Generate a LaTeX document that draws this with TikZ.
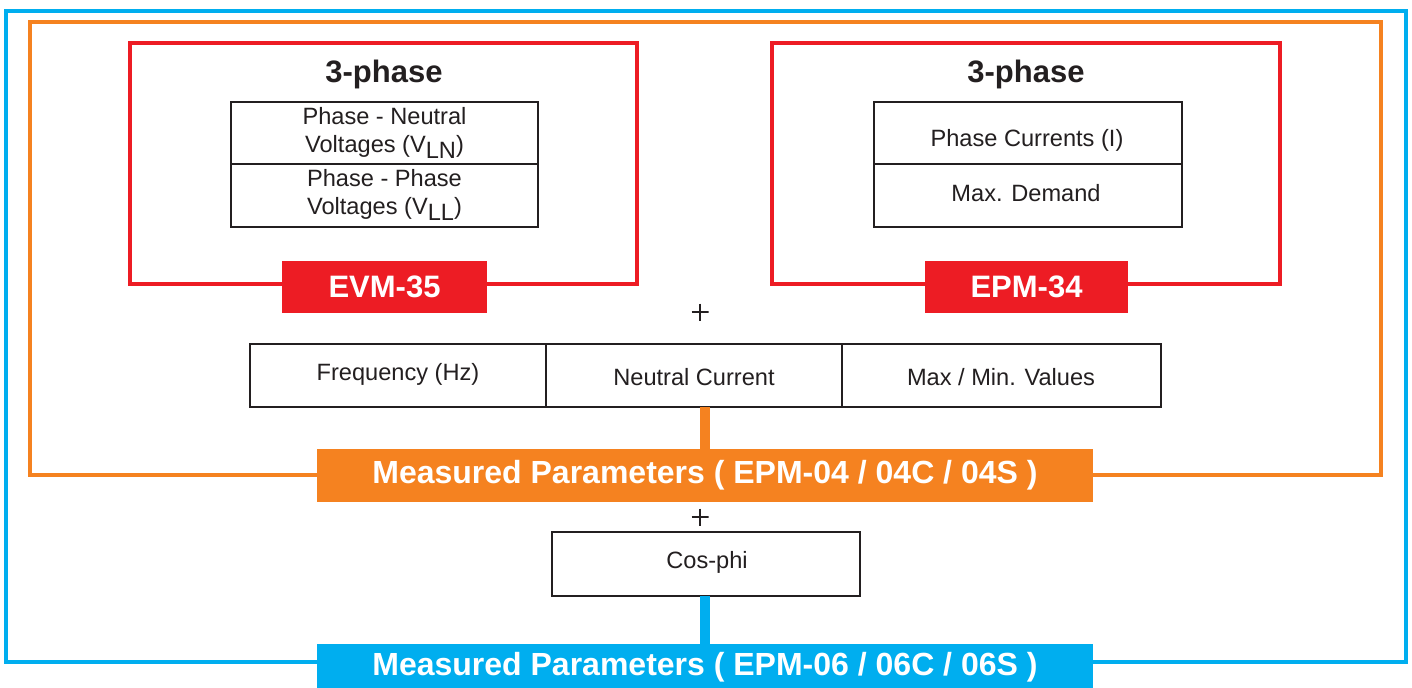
\documentclass[tikz,border=0pt]{standalone}
\usepackage{fontspec}
\setmainfont{Liberation Sans}
\definecolor{cred}{HTML}{ED1C24}
\definecolor{corange}{HTML}{F58220}
\definecolor{cblue}{HTML}{00AEEF}
\definecolor{cblack}{HTML}{231F20}
\begin{document}
\begin{tikzpicture}[x=0.5pt,y=-0.5pt,
  every node/.style={inner sep=0pt,outer sep=0pt,text=cblack},
  cell/.style={draw=cblack,line width=1pt,fill=white,minimum width=#1},
  txt/.style={align=center,font=\fontsize{11.8}{13.5}\selectfont},
  label/.style={fill=#1,text=white,font=\fontsize{15.5}{18}\selectfont\bfseries},
  biglabel/.style={fill=#1,text=white,font=\fontsize{16}{18}\selectfont\bfseries},
  title/.style={font=\fontsize{15.5}{18}\selectfont\bfseries},
  plus/.style={minimum size=8.5pt,path picture={
      \draw[cblack,line width=0.6pt] (path picture bounding box.north) -- (path picture bounding box.south)
        (path picture bounding box.west) -- (path picture bounding box.east);}},
  frame/.style={draw=#1,line width=1.6pt},
  conn/.style={draw=#1,line width=5pt}]
\useasboundingbox (0,0) rectangle (1412,687);
% outer frames
\draw[frame=cblue] (6,11) rectangle (1406,662);
\draw[frame=corange] (30,22) rectangle (1381,475);
\draw[frame=cred] (130,43) rectangle (637,284);
\draw[frame=cred] (772,43) rectangle (1280,284);
% titles
\node[title] (t1) at (384,74) {3-phase};
\node[title] (t2) at (1026,74) {3-phase};
% left table
\node[cell=153.5pt,minimum height=31pt] (vln) at (384.5,133) {};
\node[cell=153.5pt,minimum height=31.5pt] (vll) at (384.5,195.5) {};
\node[txt] (vlnt) at (384.5,132.5) {Phase - Neutral\\[0.5pt]Voltages (V\raisebox{-3pt}{LN})};
\node[txt] (vllt) at (384.5,194.5) {Phase - Phase\\[0.5pt]Voltages (V\raisebox{-3pt}{LL})};
% right table
\node[cell=154pt,minimum height=31pt] (pc) at (1028,133) {};
\node[cell=154pt,minimum height=31.5pt] (md) at (1028,195.5) {};
\node[txt] (pct) at (1027,140) {Phase Currents (I)};
\node[txt] (mdt) at (1026,193) {Max. Demand};
% labels
\node[label=cred,minimum width=102.5pt,minimum height=26pt] (evm) at (384.5,287) {EVM-35};
\node[label=cred,minimum width=101.5pt,minimum height=26pt] (epm34) at (1026.5,287) {EPM-34};
% plus 1
\node[plus] (p1) at (700,312) {};
% middle row
\node[cell=148pt,minimum height=31.5pt] (freq) at (398,375.5) {};
\node[cell=148pt,minimum height=31.5pt] (neut) at (694,375.5) {};
\node[cell=159.5pt,minimum height=31.5pt] (maxmin) at (1001.5,375.5) {};
\node[txt] (freqt) at (398,374) {Frequency (Hz)};
\node[txt] (neutt) at (694,377) {Neutral Current};
\node[txt] (maxmint) at (1001,377) {Max / Min. Values};
% orange label
\node[biglabel=corange,minimum width=388pt,minimum height=26.5pt] (or) at (705,475.5) {Measured Parameters ( EPM-04 / 04C / 04S )};
\draw[conn=corange] (or.north) -- (or.north |- neut.south);
% plus 2
\node[plus] (p2) at (700,517) {};
% cos-phi
\node[cell=154pt,minimum height=32pt] (cos) at (706,564) {};
\node[txt] (cost) at (707,562) {Cos-phi};
% blue label
\node[biglabel=cblue,minimum width=388pt,minimum height=23pt] (bl) at (705,667) {Measured Parameters ( EPM-06 / 06C / 06S )};
\draw[conn=cblue] (bl.north) -- (bl.north |- cos.south);
\end{tikzpicture}
\end{document}
